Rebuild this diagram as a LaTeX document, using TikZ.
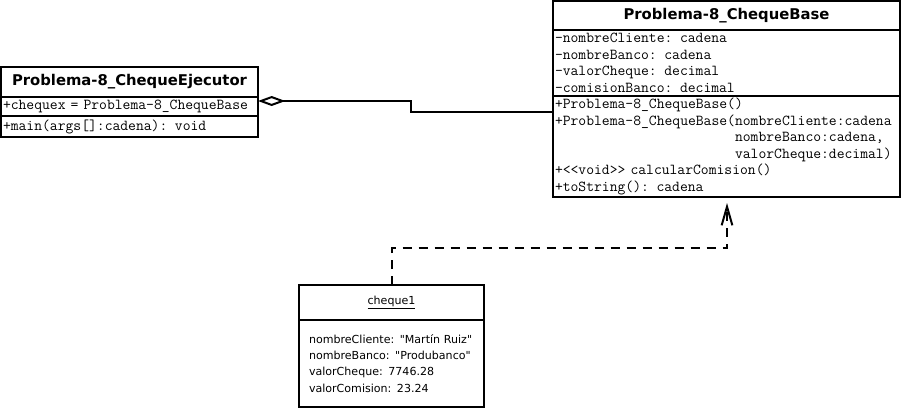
\documentclass[tikz,border=0pt]{standalone}
\usepackage{fontspec}
\setmainfont{DejaVu Sans}
\setmonofont{Latin Modern Mono}[WordSpace={1,0,0}]
\usetikzlibrary{arrows.meta,calc}

\newcommand\campifont{\ttfamily\fontsize{11.4}{12.4}\selectfont\spaceskip=0.525em\relax}

\begin{document}
\begin{tikzpicture}[x=0.75pt, y=-0.75pt,
        comp/.style={draw, line width=1.5pt, anchor=north west, inner ysep=0pt, outer sep=0pt},
        titolo/.style={comp, inner xsep=0pt, font=\bfseries\fontsize{11.1}{13}\selectfont, align=center},
        campi/.style={comp, inner xsep=1.5pt, align=left, font=\campifont},
        oggetto/.style={comp, inner xsep=7.5pt, align=left, font=\fontsize{8.3}{12.2}\selectfont},
        aggr/.style={line width=1.5pt, {Diamond[open, length=20.5pt, width=7.5pt]}-},
        dipendenza/.style={line width=1.5pt, dash pattern=on 6.75pt off 5.25pt, -{Straight Barb[length=14pt, width=8pt]}}]

        \useasboundingbox (0,0) rectangle (902,408);

        % ----------------------------------------------------
        % 1. Classe Problema-8_ChequeEjecutor
        % ----------------------------------------------------
        \node[titolo, minimum width=192.75pt, text width=192.75pt, minimum height=22.5pt] (ejtitle) at (1,67) {Problema-8\_ChequeEjecutor};
        \node[campi, minimum width=192.75pt, text width=189.75pt, minimum height=14.25pt] (ejattr) at (ejtitle.south west) {+chequex = Problema-8\_ChequeBase};
        \node[campi, minimum width=192.75pt, text width=189.75pt, minimum height=15.75pt] (ejmeth) at (ejattr.south west) {+main(args[]:cadena): void};

        % ----------------------------------------------------
        % 2. Classe Problema-8_ChequeBase
        % ----------------------------------------------------
        \node[titolo, minimum width=260.25pt, text width=260.25pt, minimum height=21.75pt] (basetitle) at (553,1) {Problema-8\_ChequeBase};
        \node[campi, minimum width=260.25pt, text width=257.25pt, minimum height=49.5pt] (baseattr) at (basetitle.south west)
            {-nombreCliente: cadena\\
             -nombreBanco: cadena\\
             -valorCheque: decimal\\
             -comisionBanco: decimal};
        \node[campi, minimum width=260.25pt, text width=257.25pt, minimum height=75.75pt] (basemeth) at (baseattr.south west)
            {+Problema-8\_ChequeBase()\\
             +Problema-8\_ChequeBase(nombreCliente:cadena\\
             \hphantom{+Problema-8\_ChequeBase(}nombreBanco:cadena,\\
             \hphantom{+Problema-8\_ChequeBase(}valorCheque:decimal)\\
             +<{}<void>{}> calcularComision()\\
             +toString(): cadena};

        % ----------------------------------------------------
        % 3. Oggetto cheque1
        % ----------------------------------------------------
        \node[oggetto, align=center, minimum width=138.75pt, text width=123.75pt, minimum height=26.25pt] (c1title) at (299,285) {\underline{cheque1}};
        \node[oggetto, minimum width=138.75pt, text width=123.75pt, minimum height=65.25pt] (c1attr) at (c1title.south west)
            {nombreCliente: \textquotedbl Martín Ruiz\textquotedbl\\
             nombreBanco: \textquotedbl Produbanco\textquotedbl\\
             valorCheque: 7746.28\\
             valorComision: 23.24};

        % Aggregazione e dipendenza
        \coordinate (aggA) at ($(ejattr.north east)+(0,4)$);
        \coordinate (aggB) at ($(basemeth.north west)+(0,16)$);
        \draw[aggr] (aggA) -- ++(153,0) |- (aggB);

        \coordinate (depEnd) at ($(basemeth.south west)+(174,6)$);
        \draw[dipendenza] (c1title.north) -- ++(0,-37) -| (depEnd);

    \end{tikzpicture}
\end{document}
